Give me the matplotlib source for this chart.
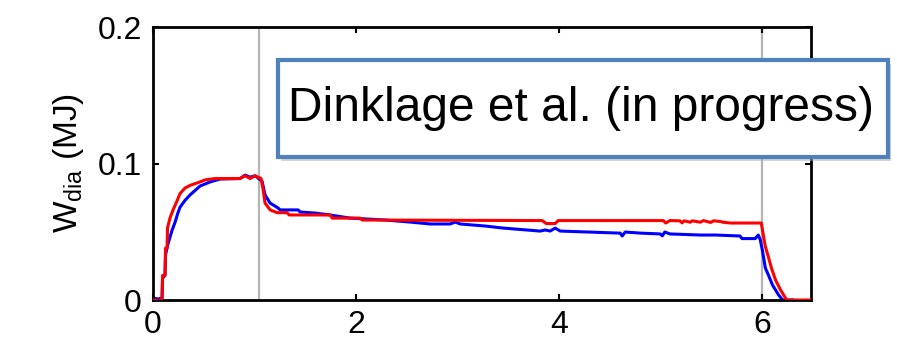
import matplotlib
matplotlib.use("Agg")
import matplotlib.pyplot as plt
from matplotlib.patches import Rectangle

plt.rcParams['font.family'] = ['Liberation Sans', 'DejaVu Sans']
plt.rcParams['mathtext.fontset'] = 'custom'
plt.rcParams['mathtext.rm'] = 'Liberation Sans'
plt.rcParams['mathtext.it'] = 'Liberation Sans'

# time (s) and diamagnetic energy (MJ)
t_red = [0.0, 0.069, 0.089, 0.094, 0.118, 0.123, 0.138, 0.143, 0.167, 0.197,
         0.227, 0.266, 0.315, 0.365, 0.463, 0.512, 0.611, 0.857, 0.906, 0.956,
         1.005, 1.064, 1.084, 1.103, 1.153, 1.222, 1.320, 1.340, 1.744, 1.764,
         2.039, 2.059, 3.833, 3.872, 3.961, 3.99, 5.025, 5.05, 5.09, 5.19,
         5.21, 5.23, 5.29, 5.31, 5.39, 5.42, 5.49, 5.52, 5.59, 5.61,
         5.685, 5.99, 6.01, 6.03, 6.06, 6.09, 6.13, 6.18, 6.24, 6.49]
w_red = [0.0, -0.0007, 0.0015, 0.018, 0.018, 0.038, 0.038, 0.053, 0.060, 0.066,
         0.071, 0.078, 0.082, 0.084, 0.0865, 0.088, 0.089, 0.089, 0.091, 0.089,
         0.091, 0.089, 0.081, 0.071, 0.066, 0.064, 0.064, 0.0623, 0.0623, 0.060,
         0.060, 0.0586, 0.0582, 0.056, 0.056, 0.0582, 0.0582, 0.0564, 0.0582, 0.058,
         0.0565, 0.058, 0.057, 0.058, 0.057, 0.0582, 0.0568, 0.058, 0.0575, 0.057,
         0.0564, 0.0564, 0.0476, 0.039, 0.0315, 0.0234, 0.0147, 0.0073, 0.0, 0.0]

t_blue = [0.0, 0.05, 0.089, 0.094, 0.118, 0.123, 0.143, 0.167, 0.187, 0.217,
          0.246, 0.266, 0.315, 0.365, 0.463, 0.562, 0.660, 0.857, 0.906, 0.956,
          1.005, 1.074, 1.103, 1.153, 1.232, 1.251, 1.429, 1.448, 1.596, 1.744,
          1.941, 2.286, 2.532, 2.729, 2.926, 2.975, 3.025, 3.271, 3.448, 3.813,
          3.862, 3.911, 3.96, 4.01, 4.60, 4.62, 4.65, 4.80, 4.995, 5.015,
          5.04, 5.09, 5.39, 5.54, 5.78, 5.80, 5.93, 5.96, 5.98, 6.00,
          6.03, 6.06, 6.10, 6.16, 6.20, 6.30]
w_blue = [0.0015, 0.0007, 0.0015, 0.016, 0.018, 0.033, 0.040, 0.046, 0.051, 0.057,
          0.064, 0.068, 0.073, 0.077, 0.0835, 0.0865, 0.0886, 0.089, 0.0915, 0.090,
          0.091, 0.087, 0.077, 0.071, 0.0674, 0.066, 0.066, 0.0645, 0.0637, 0.0623,
          0.060, 0.0586, 0.0571, 0.0557, 0.0557, 0.0571, 0.0557, 0.0542, 0.0527, 0.0505,
          0.0513, 0.0505, 0.0527, 0.0505, 0.049, 0.0469, 0.0498, 0.049, 0.0484, 0.047,
          0.0498, 0.0484, 0.0476, 0.0476, 0.0469, 0.045, 0.045, 0.0476, 0.044, 0.0366,
          0.0234, 0.0183, 0.011, 0.0037, 0.0, 0.0]

events = [1.04, 6.0]
note = "Dinklage et al. (in progress)"

fig = plt.figure(figsize=(8.97, 3.38), dpi=100)
ax = fig.add_axes([0.1706, 0.1124, 0.7336, 0.8077])

for xe in events:
    ax.axvline(xe, color='#b4b4b4', lw=1.6, zorder=1)

ax.plot(t_blue, w_blue, color='#0000ff', lw=2.2, zorder=2)
ax.plot(t_red, w_red, color='#ff0000', lw=2.2, zorder=3)

ax.set_xlim(0, 6.48)
ax.set_ylim(0, 0.2)
ax.set_xticks([0, 2, 4, 6])
ax.set_yticks([0, 0.1, 0.2])
ax.set_yticklabels(['0', '0.1', '0.2'])
ax.tick_params(direction='in', length=4, width=1.5, labelsize=23,
               top=True, right=True)
ax.tick_params(axis='x', pad=7)
ax.tick_params(axis='y', pad=8)
for s in ax.spines.values():
    s.set_linewidth(2)
ax.set_ylabel(r'W$_{\rm dia}$ (MJ)', fontsize=24, labelpad=8)

# annotation box with drop shadow
bx, by, bw, bh = 278 / 897, 1 - 157 / 338, 610 / 897, 97 / 338
shadow = Rectangle((bx + 3 / 897, by - 4 / 338), bw, bh, transform=fig.transFigure,
                   fc='#aaaaaa', ec='none', alpha=0.5, zorder=10)
box = Rectangle((bx, by), bw, bh, transform=fig.transFigure,
                fc='white', ec='#4f81bd', lw=3, zorder=11)
fig.add_artist(shadow)
fig.add_artist(box)
fig.text(bx + 10 / 897, by + bh / 2, note, fontsize=34.5, ha='left', va='center',
         zorder=12)

fig.savefig('out.png', dpi=100)
